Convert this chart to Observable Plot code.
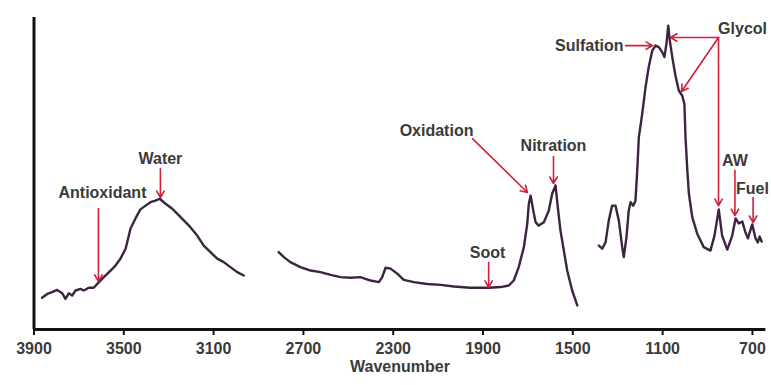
<!DOCTYPE html>
<html>
<head>
<meta charset="utf-8">
<script src="https://cdn.jsdelivr.net/npm/d3@7"></script>
<script src="https://cdn.jsdelivr.net/npm/@observablehq/plot@0.6"></script>
<style>
  html, body { margin: 0; padding: 0; background: #fff; }
  #chart svg g[aria-label="x-axis tick"] path { stroke-width: 2; stroke: #111; }
</style>
</head>
<body>
<div id="chart"></div>
<script>
// ---- Spectrum segments (wavenumber, absorbance) ----
const seg1Wave = [3864, 3841, 3819, 3797, 3774, 3760, 3745, 3730, 3715, 3693, 3678, 3656, 3634, 3611, 3589, 3559, 3537, 3515, 3492, 3470, 3448, 3426, 3403, 3381, 3359, 3340, 3314, 3284, 3247, 3210, 3173, 3144, 3114, 3084, 3055, 3025, 2995, 2966];
const seg1Abs  = [0.102, 0.114, 0.120, 0.127, 0.116, 0.098, 0.116, 0.109, 0.125, 0.130, 0.125, 0.134, 0.134, 0.152, 0.168, 0.189, 0.205, 0.227, 0.259, 0.324, 0.356, 0.385, 0.397, 0.408, 0.413, 0.419, 0.403, 0.387, 0.360, 0.333, 0.301, 0.269, 0.248, 0.227, 0.216, 0.200, 0.184, 0.173];

const seg2Wave = [2810, 2787, 2758, 2713, 2668, 2624, 2579, 2535, 2490, 2446, 2401, 2364, 2349, 2334, 2312, 2282, 2253, 2208, 2149, 2089, 2030, 1956, 1874, 1822, 1785, 1763, 1741, 1718, 1703, 1696, 1688, 1676, 1666, 1652, 1629, 1607, 1592, 1577, 1567, 1555, 1540, 1525, 1503, 1480];
const seg2Abs  = [0.248, 0.232, 0.216, 0.200, 0.189, 0.184, 0.175, 0.168, 0.166, 0.168, 0.157, 0.152, 0.168, 0.198, 0.195, 0.179, 0.159, 0.152, 0.146, 0.143, 0.138, 0.134, 0.134, 0.136, 0.141, 0.157, 0.200, 0.264, 0.339, 0.403, 0.429, 0.381, 0.344, 0.333, 0.344, 0.381, 0.435, 0.462, 0.392, 0.317, 0.253, 0.189, 0.125, 0.077];

const seg3Wave = [1384, 1369, 1354, 1340, 1325, 1310, 1295, 1280, 1273, 1261, 1251, 1243, 1231, 1221, 1213, 1206, 1191, 1176, 1162, 1146, 1132, 1117, 1102, 1092, 1083, 1075, 1068, 1057, 1043, 1028, 1013, 1003, 998, 990, 983, 968, 946, 917, 887, 869, 850, 835, 812, 790, 775, 761, 745, 731, 720, 701, 686, 676, 668, 659];
const seg3Abs  = [0.269, 0.259, 0.280, 0.349, 0.397, 0.397, 0.349, 0.264, 0.232, 0.296, 0.381, 0.408, 0.397, 0.413, 0.510, 0.616, 0.691, 0.777, 0.841, 0.894, 0.910, 0.905, 0.889, 0.873, 0.916, 0.974, 0.926, 0.873, 0.814, 0.766, 0.750, 0.723, 0.616, 0.510, 0.435, 0.360, 0.307, 0.264, 0.253, 0.301, 0.385, 0.301, 0.256, 0.301, 0.356, 0.340, 0.346, 0.311, 0.292, 0.337, 0.292, 0.279, 0.298, 0.282];

// ---- Axis ticks ----
const tickValues = [3900, 3500, 3100, 2700, 2300, 1900, 1500, 1100, 700];
const axisTitle = "Wavenumber";

// ---- Annotation labels ----
const noteLabels = ["Antioxidant", "Water", "Oxidation", "Nitration", "Soot", "Sulfation", "Glycol", "AW", "Fuel"];
const noteWave   = [3595, 3337, 2107, 1586, 1880, 1274, 744, 778, 700];
const noteAbs    = [0.439, 0.548, 0.638, 0.587, 0.247, 0.910, 0.965, 0.542, 0.452];
const noteAnchor = ["middle", "middle", "middle", "middle", "middle", "end", "middle", "middle", "middle"];

// ---- Annotation arrows ----
const arrowWave1 = [3613, 3337, 1947, 1586, 1875, 1265, 851, 851, 851, 778, 697];
const arrowAbs1  = [0.388, 0.516, 0.612, 0.554, 0.215, 0.910, 0.936, 0.936, 0.936, 0.510, 0.423];
const arrowWave2 = [3613, 3337, 1702, 1586, 1875, 1145, 1065, 1016, 851, 778, 697];
const arrowAbs2  = [0.154, 0.423, 0.439, 0.468, 0.135, 0.910, 0.936, 0.763, 0.397, 0.365, 0.343];

// build tables
const spectrum = [];
[[seg1Wave, seg1Abs, "a"], [seg2Wave, seg2Abs, "b"], [seg3Wave, seg3Abs, "c"]].forEach(([w, a, s]) => {
  w.forEach((v, i) => spectrum.push({wave: v, abs: a[i], seg: s}));
});
const notes = noteLabels.map((t, i) => ({text: t, wave: noteWave[i], abs: noteAbs[i], anchor: noteAnchor[i]}));
const arrows = arrowWave1.map((w, i) => ({x1: w, y1: arrowAbs1[i], x2: arrowWave2[i], y2: arrowAbs2[i]}));

const font = "'Liberation Sans', Arial, sans-serif";
const red = "#d0203a";
const textColor = "#3a3a3a";

const chart = Plot.plot({
  width: 771,
  height: 385,
  marginLeft: 33.5,
  marginRight: 5.6,
  marginTop: 17,
  marginBottom: 56,
  style: {fontFamily: font, fontSize: "16px", fontWeight: "bold", color: textColor, background: "#fff"},
  x: {domain: [3900, 640], ticks: tickValues, tickFormat: d => String(d), tickSize: 6, tickPadding: 7, label: null},
  y: {domain: [0, 1], axis: null},
  marks: [
    Plot.ruleY([0], {stroke: "#111", strokeWidth: 3}),
    Plot.ruleX([3900], {y1: 0, y2: 1, stroke: "#111", strokeWidth: 3}),
    Plot.line(spectrum, {x: "wave", y: "abs", z: "seg", stroke: "#3c2440", strokeWidth: 2.4, curve: "linear"}),
    Plot.arrow(arrows, {x1: "x1", y1: "y1", x2: "x2", y2: "y2", stroke: red, strokeWidth: 1.6, headLength: 7}),
    Plot.text(notes.filter(d => d.anchor === "middle"), {x: "wave", y: "abs", text: "text", fill: textColor, textAnchor: "middle", fontSize: 16, fontWeight: "bold"}),
    Plot.text(notes.filter(d => d.anchor === "end"), {x: "wave", y: "abs", text: "text", fill: textColor, textAnchor: "end", fontSize: 16, fontWeight: "bold"}),
    Plot.text([axisTitle], {frameAnchor: "bottom", dy: 42, text: d => d, fill: textColor, fontSize: 16, fontWeight: "bold"})
  ]
});
document.getElementById("chart").appendChild(chart);
</script>
</body>
</html>
